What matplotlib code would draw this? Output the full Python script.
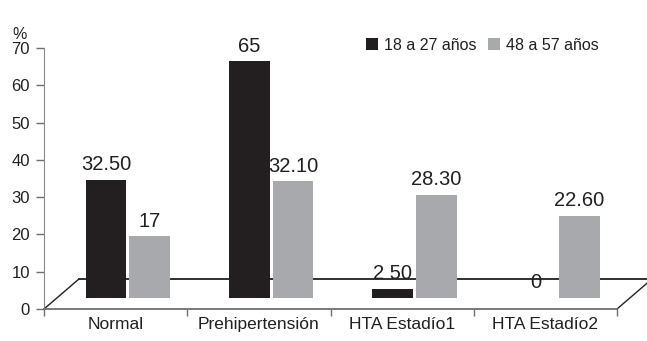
import matplotlib
matplotlib.use("Agg")
import matplotlib.pyplot as plt
from matplotlib.patches import Patch

plt.rcParams['font.family'] = ['Liberation Sans', 'DejaVu Sans']

# Blood pressure classification by age group (%)
categories = ["Normal", "Prehipertensión", "HTA Estadío1", "HTA Estadío2"]
series_names = ["18 a 27 años", "48 a 57 años"]
young = [32.5, 65, 2.5, 0]
older = [17, 32.1, 28.3, 22.6]
young_labels = ["32.50", "65", "2 50", "0"]
older_labels = ["17", "32.10", "28.30", "22.60"]
y_ticks = [0, 10, 20, 30, 40, 50, 60, 70]

DARK = "#231f20"
GREY = "#a7a9ac"
AXIS = "#6d6e70"

W, H = 647, 341
fig = plt.figure(figsize=(W / 100, H / 100), dpi=100)

# main axes: value scale on the left, category boundaries on the front edge
x0, x1, y0, y1 = 44, 617, 309, 48
ax = fig.add_axes([x0 / W, (H - y0) / H, (x1 - x0) / W, (y0 - y1) / H])
ax.set_xlim(0, len(categories))
ax.set_ylim(0, 70)
ax.set_yticks(y_ticks)
ax.set_xticks(range(len(categories) + 1))
ax.set_xticklabels([])
ax.set_xticks([i + 0.5 for i in range(len(categories))], minor=True)
ax.set_xticklabels(categories, minor=True, fontsize=12.5, color="#231f20")
ax.tick_params(axis="x", which="minor", length=0, pad=6)
ax.tick_params(axis="x", which="major", length=5, width=1, color=AXIS, direction="out")
ax.tick_params(axis="y", length=6, width=1, color=AXIS, direction="out",
               labelsize=12, labelcolor="#231f20", pad=4)
for s in ("top", "right"):
    ax.spines[s].set_visible(False)
ax.spines["left"].set_color("#8a8a8a")
ax.spines["bottom"].set_color(AXIS)
ax.spines["bottom"].set_linewidth(1.3)
ax.text(-0.17, 71.6, "%", ha="center", va="bottom", fontsize=11.5, color=DARK,
        transform=ax.transData)

# floor outline (depth offset of the oblique view)
dx, dy = 0.244, 8.05
n = len(categories)
ax.plot([0, dx], [0, dy], color=DARK, lw=1.0, clip_on=False)
ax.plot([dx, n + dx], [dy, dy], color=DARK, lw=1.3, clip_on=False)
ax.plot([n, n + dx], [0, dy], color=DARK, lw=1.0, clip_on=False)

# bar axes: baseline sits on the middle of the floor
ax2 = ax.twinx()
ax2.set_ylim(-11 / 3.64, (298 - 48) / 3.64)
ax2.axis("off")
ax2.set_xlim(0, n)

w = 0.285
pos_y = [i + 0.433 for i in range(n)]
pos_o = [i + 0.738 for i in range(n)]
b1 = ax2.bar(pos_y, young, width=w, color=DARK, linewidth=0)
b2 = ax2.bar(pos_o, older, width=w, color=GREY, linewidth=0)
for bars, labels in ((b1, young_labels), (b2, older_labels)):
    ax2.bar_label(bars, labels=labels, padding=4, fontsize=14.5, color=DARK)

handles = [Patch(facecolor=DARK, edgecolor="none"), Patch(facecolor=GREY, edgecolor="none")]
fig.legend(handles, series_names, loc="center left",
           bbox_to_anchor=(366 / W, 1 - 45 / H), ncol=2, frameon=False,
           fontsize=11.5, handlelength=0.75, handleheight=0.75,
           handletextpad=0.35, columnspacing=0.75, borderpad=0, borderaxespad=0,
           labelcolor=DARK)

fig.savefig("out.png", dpi=100)
